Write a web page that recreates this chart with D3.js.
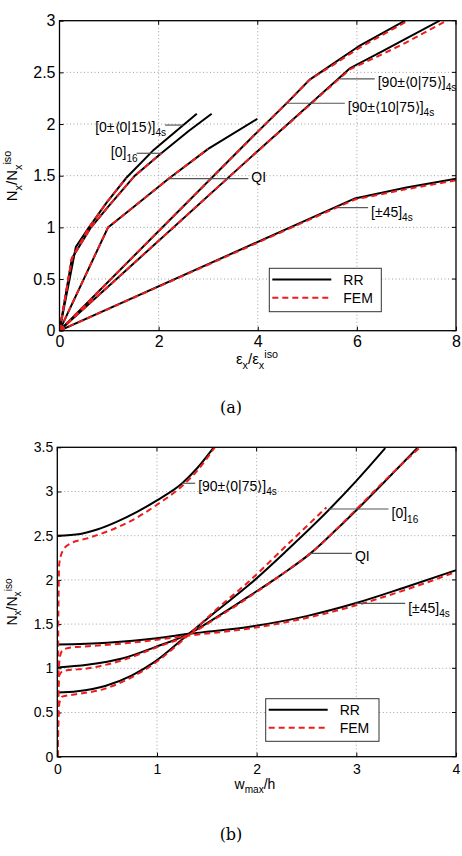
<!DOCTYPE html>
<html>
<head>
<meta charset="utf-8">
<script src="https://cdn.jsdelivr.net/npm/d3@7"></script>
<style>
  body { margin: 0; background: #fff; }
  svg { display: block; font-family: "Liberation Sans", Arial, Helvetica, sans-serif; }
</style>
</head>
<body>
<div id="chart"></div>
<script>
// ---- panel (a): Nx/Nx_iso vs eps_x/eps_x_iso ----
var a_xticks = [0, 2, 4, 6, 8];
var a_yticks = [0, 0.5, 1, 1.5, 2, 2.5, 3];

var a_ud15_rr  = [[0,0],[0.33,0.81],[0.58,0.99],[0.95,1.24],[1.35,1.48],[1.9,1.75],[2.5,1.99],[2.77,2.10]];
var a_ud15_fem = [[0,0],[0.25,0.70],[0.58,0.99],[0.95,1.24],[1.35,1.48]];
var a_ud_rr    = [[0,0],[0.25,0.70],[0.62,0.99],[1.0,1.21],[1.52,1.5],[2.06,1.72],[2.6,1.93],[3.07,2.10]];
var a_ud_fem   = [[0,0],[0.25,0.70],[0.62,0.99],[1.0,1.21],[1.52,1.5],[2.06,1.72]];
var a_qi_rr    = [[0,0],[0.98,1.0],[1.5,1.2],[2.2,1.47],[3.0,1.76],[3.99,2.05]];
var a_qi_fem   = [[0,0],[0.98,1.0],[1.5,1.2],[2.2,1.47],[3.0,1.76]];
var a_v10_rr   = [[0,0],[3.84,1.85],[4.58,2.20],[5.05,2.43],[5.45,2.56],[6.06,2.76],[6.97,3.0]];
var a_v10_fem  = [[0,0],[3.84,1.85],[4.58,2.20],[5.05,2.43],[5.45,2.55],[6.06,2.74],[7.03,3.0]];
var a_v0_rr    = [[0,0],[3.84,1.67],[5.86,2.54],[6.5,2.70],[7.0,2.83],[7.67,3.0]];
var a_v0_fem   = [[0,0],[3.84,1.67],[5.86,2.53],[6.4,2.65],[7.0,2.79],[7.81,3.0]];
var a_pm45_rr  = [[0,0],[5.96,1.28],[7.0,1.385],[8,1.47]];
var a_pm45_fem = [[0,0],[5.96,1.27],[7.0,1.37],[8,1.455]];

// ---- panel (b): Nx/Nx_iso vs w_max/h ----
var b_xticks = [0, 1, 2, 3, 4];
var b_yticks = [0, 0.5, 1, 1.5, 2, 2.5, 3, 3.5];

var b_v0_rr    = [[0,2.5],[0.23,2.52],[0.4,2.57],[0.6,2.66],[0.8,2.77],[1.0,2.90],[1.25,3.09],[1.4,3.26],[1.57,3.5]];
var b_v0_fem   = [[0.004,0],[0.01,1.5],[0.02,2.19],[0.06,2.34],[0.13,2.41],[0.3,2.47],[0.53,2.56],[0.76,2.68],[1.0,2.85],[1.25,3.06],[1.4,3.23],[1.58,3.5]];
var b_ud_rr    = [[0,0.725],[0.2,0.74],[0.48,0.80],[0.75,0.92],[0.98,1.075],[1.32,1.39],[1.6,1.65],[1.93,1.95],[2.3,2.33],[2.74,2.81],[3.0,3.12],[3.29,3.49]];
var b_ud_fem   = [[0.004,0],[0.012,0.4],[0.02,0.6],[0.05,0.68],[0.15,0.70],[0.48,0.77],[0.75,0.90],[0.98,1.06],[1.32,1.38],[1.6,1.67],[1.93,1.99],[2.3,2.39],[2.7,2.82]];
var b_qi_rr    = [[0,1.01],[0.3,1.04],[0.65,1.11],[0.98,1.24],[1.32,1.39],[1.6,1.58],[1.93,1.82],[2.25,2.06],[2.54,2.30],[2.8,2.57],[3.01,2.80],[3.3,3.13],[3.61,3.49]];
var b_qi_fem   = [[0.004,0],[0.012,0.7],[0.02,0.92],[0.06,0.97],[0.31,1.0],[0.65,1.09],[0.98,1.23],[1.32,1.38],[1.6,1.57],[1.93,1.81],[2.25,2.06],[2.54,2.30],[3.01,2.81],[3.3,3.14],[3.64,3.5]];
var b_pm45_rr  = [[0,1.27],[0.5,1.29],[1.0,1.34],[1.32,1.39],[1.93,1.47],[2.5,1.59],[2.99,1.735],[3.5,1.92],[4.0,2.11]];
var b_pm45_fem = [[0.004,0],[0.012,0.9],[0.025,1.12],[0.05,1.2],[0.11,1.23],[0.31,1.25],[0.65,1.28],[0.98,1.32],[1.32,1.37],[1.93,1.45],[2.5,1.57],[2.99,1.71],[3.5,1.89],[4.0,2.09]];

// annotation labels: text, subscript, pointer x0, x1, y (data units)
var a_notes = [
  {txt: "[0\u00b1\u27e80|15\u27e9]", sub: "4s", x0: 2.13, x1: 2.50, y: 1.99, side: "left",  ty: 1.925},
  {txt: "[0]", sub: "16", x0: 1.556, x1: 2.06, y: 1.717, side: "left", ty: 1.68},
  {txt: "QI", sub: "", x0: 2.19, x1: 3.81, y: 1.471, side: "right", ty: 1.44},
  {txt: "[90\u00b1\u27e80|75\u27e9]", sub: "4s", x0: 5.655, x1: 6.36, y: 2.437, side: "right", ty: 2.36},
  {txt: "[90\u00b1\u27e810|75\u27e9]", sub: "4s", x0: 4.546, x1: 5.756, y: 2.201, side: "right", ty: 2.12},
  {txt: "[\u00b145]", sub: "4s", x0: 5.62, x1: 6.226, y: 1.191, side: "right", ty: 1.104}
];
var b_notes = [
  {txt: "[90\u00b1\u27e80|75\u27e9]", sub: "4s", x0: 1.249, x1: 1.383, y: 3.093, side: "right", ty: 3.01},
  {txt: "[0]", sub: "16", x0: 2.721, x1: 3.323, y: 2.802, side: "right", ty: 2.70},
  {txt: "QI", sub: "", x0: 2.537, x1: 2.956, y: 2.301, side: "right", ty: 2.214},
  {txt: "[\u00b145]", sub: "4s", x0: 2.989, x1: 3.49, y: 1.735, side: "right", ty: 1.626}
];

var W = 462, H = 856;
var svg = d3.select("#chart").append("svg").attr("width", W).attr("height", H);

// write text with sub/superscripts, parts = [[text, "n"|"sub"|"sup"], ...]
function rich(sel, parts, fs) {
  var off = 0;
  parts.forEach(function(p) {
    var target = p[1] == "sub" ? 0.32 * fs : (p[1] == "sup" ? -0.38 * fs : 0);
    sel.append("tspan")
      .attr("dy", target - off)
      .attr("font-size", p[1] == "n" ? fs : fs * 0.72)
      .text(p[0]);
    off = target;
  });
}

function panel(opt) {
  var x = d3.scaleLinear().domain(opt.xd).range([opt.left, opt.right]);
  var y = d3.scaleLinear().domain(opt.yd).range([opt.bottom, opt.top]);
  var g = svg.append("g");

  // dotted grid
  g.selectAll(".gx").data(opt.xticks.slice(1, -1)).enter().append("line")
    .attr("x1", d => x(d)).attr("x2", d => x(d))
    .attr("y1", opt.top).attr("y2", opt.bottom)
    .attr("stroke", "#8a8a8a").attr("stroke-width", 0.8).attr("stroke-dasharray", "1,2.5");
  g.selectAll(".gy").data(opt.yticks.slice(1, -1)).enter().append("line")
    .attr("y1", d => y(d)).attr("y2", d => y(d))
    .attr("x1", opt.left).attr("x2", opt.right)
    .attr("stroke", "#8a8a8a").attr("stroke-width", 0.8).attr("stroke-dasharray", "1,2.5");

  // axes (inward ticks)
  var xa = g.append("g").attr("transform", "translate(0," + opt.bottom + ")")
    .call(d3.axisBottom(x).tickValues(opt.xticks).tickFormat(d3.format("~g")).tickSizeInner(-4).tickSizeOuter(0).tickPadding(opt.xpad));
  var ya = g.append("g").attr("transform", "translate(" + opt.left + ",0)")
    .call(d3.axisLeft(y).tickValues(opt.yticks).tickFormat(d3.format("~g")).tickSizeInner(-4).tickSizeOuter(0).tickPadding(opt.ypad));
  [xa, ya].forEach(function(a) {
    a.select(".domain").remove();
    a.selectAll("text").attr("font-size", opt.tfs).attr("fill", "#000")
      .attr("font-family", "'Liberation Sans', Arial, sans-serif");
    a.selectAll("line").attr("stroke", "#000");
  });
  // top / right ticks
  g.selectAll(".tt").data(opt.xticks).enter().append("line")
    .attr("x1", d => x(d)).attr("x2", d => x(d)).attr("y1", opt.top).attr("y2", opt.top + 4).attr("stroke", "#000");
  g.selectAll(".rt").data(opt.yticks).enter().append("line")
    .attr("y1", d => y(d)).attr("y2", d => y(d)).attr("x1", opt.right).attr("x2", opt.right - 4).attr("stroke", "#000");

  // curves
  var line = d3.line().x(d => x(d[0])).y(d => y(d[1])).curve(opt.curve);
  g.append("clipPath").attr("id", opt.id + "clip").append("rect")
    .attr("x", opt.left).attr("y", opt.top).attr("width", opt.right - opt.left).attr("height", opt.bottom - opt.top);
  var lg = g.append("g").attr("clip-path", "url(#" + opt.id + "clip)");
  opt.rr.forEach(function(s) {
    lg.append("path").attr("d", line(s)).attr("fill", "none").attr("stroke", "#000").attr("stroke-width", 2);
  });
  opt.fem.forEach(function(s) {
    lg.append("path").attr("d", line(s)).attr("fill", "none").attr("stroke", "#ee1c1c")
      .attr("stroke-width", 2).attr("stroke-dasharray", "6,4");
  });

  // box
  g.append("rect").attr("x", opt.left).attr("y", opt.top)
    .attr("width", opt.right - opt.left).attr("height", opt.bottom - opt.top)
    .attr("fill", "none").attr("stroke", "#000").attr("stroke-width", 1.3);

  // annotations
  opt.notes.forEach(function(n) {
    g.append("line").attr("x1", x(n.x0)).attr("x2", x(n.x1)).attr("y1", y(n.y)).attr("y2", y(n.y))
      .attr("stroke", "#555").attr("stroke-width", 1.2);
    var t = g.append("text").attr("y", y(n.ty)).attr("fill", "#000");
    if (n.side == "left") t.attr("x", x(n.x0) + 1).attr("text-anchor", "end");
    else t.attr("x", x(n.x1) + 3).attr("text-anchor", "start");
    var parts = [[n.txt, "n"]];
    if (n.sub) parts.push([n.sub, "sub"]);
    rich(t, parts, opt.nfs);
  });

  // legend
  var L = opt.legend;
  g.append("rect").attr("x", L.x).attr("y", L.y).attr("width", L.w).attr("height", L.h)
    .attr("fill", "#fff").attr("stroke", "#333").attr("stroke-width", 1);
  [["RR", "#000", null], ["FEM", "#ee1c1c", "6,4"]].forEach(function(e, i) {
    var yy = L.y + L.h * (i == 0 ? 0.26 : 0.68);
    g.append("line").attr("x1", L.x + 3).attr("x2", L.x + 62).attr("y1", yy).attr("y2", yy)
      .attr("stroke", e[1]).attr("stroke-width", 2).attr("stroke-dasharray", e[2]);
    g.append("text").attr("x", L.x + 74).attr("y", yy + 5).attr("font-size", 14).text(e[0]);
  });

  // axis labels
  var xl = g.append("text").attr("x", opt.xlab.x).attr("y", opt.xlab.y).attr("text-anchor", "middle");
  rich(xl, opt.xlab.parts, opt.lfs);
  var yl = g.append("text").attr("transform", "translate(" + opt.ylab.x + "," + opt.ylab.y + ") rotate(-90)")
    .attr("text-anchor", "middle");
  rich(yl, opt.ylab.parts, opt.lfs);

  // caption
  svg.append("text").attr("x", 231).attr("y", opt.caption.y).attr("text-anchor", "middle")
    .attr("font-family", "'DejaVu Serif', 'Liberation Serif', serif").attr("font-size", 16)
    .text(opt.caption.t);
}

var nParts = [["N", "n"], ["x", "sub"], ["/N", "n"], ["x", "sub"], ["iso", "sup"]];

panel({
  id: "a", xd: [0, 8], yd: [0, 3], left: 59.5, right: 456, top: 20.7, bottom: 330.7,
  xticks: a_xticks, yticks: a_yticks, tfs: 16, nfs: 14, lfs: 15, xpad: 5, ypad: 4,
  curve: d3.curveLinear,
  rr: [a_ud15_rr, a_ud_rr, a_qi_rr, a_v10_rr, a_v0_rr, a_pm45_rr],
  fem: [a_ud15_fem, a_ud_fem, a_qi_fem, a_v10_fem, a_v0_fem, a_pm45_fem],
  notes: a_notes,
  legend: {x: 269.3, y: 268.3, w: 112, h: 43.4},
  xlab: {x: 257, y: 364, parts: [["\u03b5", "n"], ["x", "sub"], ["/\u03b5", "n"], ["x", "sub"], ["iso", "sup"]]},
  ylab: {x: 17, y: 176, parts: nParts},
  caption: {t: "(a)", y: 413}
});

panel({
  id: "b", xd: [0, 4], yd: [0, 3.5], left: 57.3, right: 456, top: 447.3, bottom: 756.7,
  xticks: b_xticks, yticks: b_yticks, tfs: 14, nfs: 14, lfs: 14, xpad: 7, ypad: 4,
  curve: d3.curveMonotoneX,
  rr: [b_v0_rr, b_ud_rr, b_qi_rr, b_pm45_rr],
  fem: [b_v0_fem, b_ud_fem, b_qi_fem, b_pm45_fem],
  notes: b_notes,
  legend: {x: 265.7, y: 698.7, w: 113.3, h: 42.6},
  xlab: {x: 255, y: 789, parts: [["w", "n"], ["max", "sub"], ["/h", "n"]]},
  ylab: {x: 17, y: 602, parts: nParts},
  caption: {t: "(b)", y: 840}
});
</script>
</body>
</html>
